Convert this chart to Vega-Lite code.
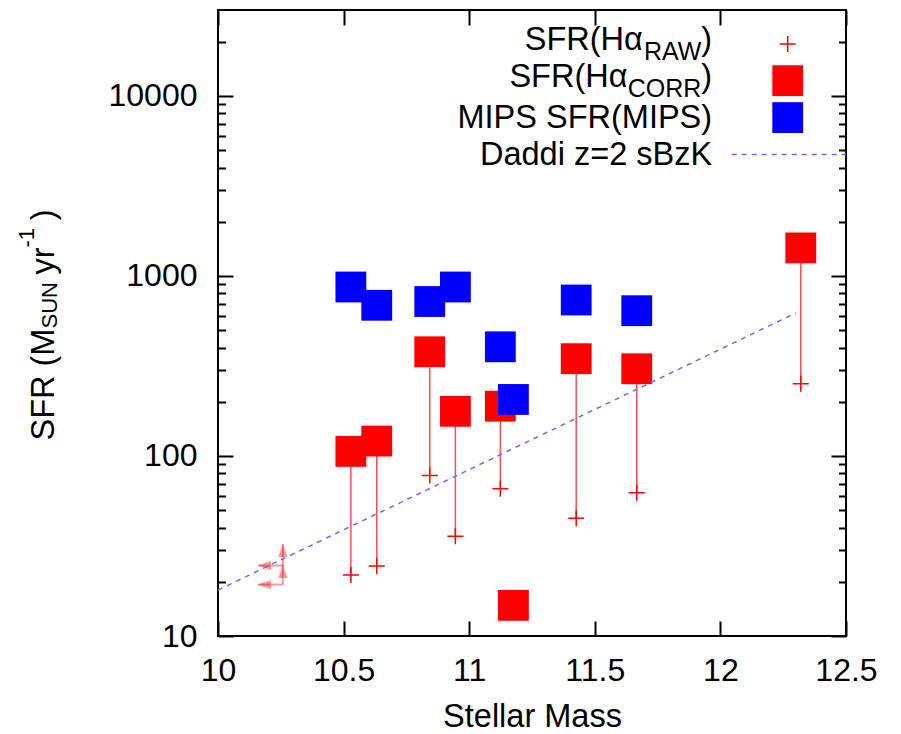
{
  "$schema": "https://vega.github.io/schema/vega-lite/v6.json",
  "width": 628,
  "height": 626,
  "autosize": {"type": "none"},
  "padding": {"left": 218, "top": 10, "right": 55, "bottom": 98},
  "background": "white",
  "config": {
    "view": {"stroke": "#000", "strokeWidth": 2},
    "font": "Liberation Sans",
    "axis": {
      "domain": false,
      "grid": false,
      "labelFont": "Liberation Sans",
      "labelFontSize": 32,
      "labelColor": "#000",
      "labelOverlap": false,
      "labelFlush": false,
      "tickColor": "#000",
      "tickWidth": 2,
      "titleFont": "Liberation Sans",
      "titleFontSize": 32.5,
      "titleFontWeight": "normal",
      "titleColor": "#000"
    },
    "text": {"font": "Liberation Sans", "color": "#000"}
  },
  "datasets": {
    "galaxies": [
      {"mass": 10.529, "raw": 21.8, "corr": 106, "mips": 868},
      {"mass": 10.632, "raw": 24.5, "corr": 121, "mips": 687},
      {"mass": 10.843, "raw": 77.8, "corr": 379, "mips": 721},
      {"mass": 10.945, "raw": 35.8, "corr": 177, "mips": 868},
      {"mass": 11.124, "raw": 65.8, "corr": 189, "mips": 404},
      {"mass": 11.176, "raw": null, "corr": 14.8, "mips": 206},
      {"mass": 11.426, "raw": 45.1, "corr": 347, "mips": 735},
      {"mass": 11.667, "raw": 62.5, "corr": 305, "mips": 641},
      {"mass": 12.32, "raw": 252, "corr": 1431, "mips": null}
    ],
    "limits": [
      {"mass": 10.258, "sfr": 19.3, "mass_lim": 10.159, "sfr_lim": 24.8},
      {"mass": 10.258, "sfr": 24.6, "mass_lim": 10.159, "sfr_lim": 32.4}
    ],
    "daddi": [
      {"mass": 10.0, "sfr": 18.0},
      {"mass": 12.3, "sfr": 622}
    ],
    "key": [
      {"entry": "raw", "label": "SFR(Hα", "sub": "RAW"},
      {"entry": "corr", "label": "SFR(Hα", "sub": "CORR"},
      {"entry": "mips", "label": "MIPS SFR(MIPS)"},
      {"entry": "daddi", "label": "Daddi z=2 sBzK"}
    ]
  },
  "layer": [
    {
      "data": {"name": "galaxies"},
      "transform": [{"filter": "isValid(datum.raw)"}],
      "mark": {"type": "rule", "color": "#ff0000", "strokeWidth": 1.5, "opacity": 0.7},
      "encoding": {
        "x": {
          "field": "mass", "type": "quantitative",
          "scale": {"domain": [10, 12.5], "nice": false, "zero": false},
          "axis": {
            "orient": "bottom",
            "values": [10, 10.5, 11, 11.5, 12, 12.5],
            "format": "~g",
            "tickSize": -15,
            "labelPadding": 34,
            "title": "Stellar Mass",
            "titleX": 314,
            "titleY": 90,
            "titleAlign": "center",
            "titleBaseline": "alphabetic"
          }
        },
        "y": {
          "field": "raw", "type": "quantitative",
          "scale": {"type": "log", "domain": [10, 30000], "nice": false},
          "axis": {
            "orient": "left",
            "values": [10, 20, 30, 40, 50, 60, 70, 80, 90, 100, 200, 300, 400, 500, 600, 700, 800, 900, 1000, 2000, 3000, 4000, 5000, 6000, 7000, 8000, 9000, 10000, 20000],
            "format": "d",
            "labelExpr": "(datum.value == 10 || datum.value == 100 || datum.value == 1000 || datum.value == 10000) ? datum.label : ''",
            "tickSize": {"condition": {"test": "datum.value == 10 || datum.value == 100 || datum.value == 1000 || datum.value == 10000", "value": -15}, "value": -7.5},
            "labelPadding": 36,
            "title": "SFR (M\u00a0\u00a0\u00a0\u00a0\u00a0 yr\u00a0\u00a0\u00a0)",
            "titleX": -165,
            "titleY": 430,
            "titleAngle": 270,
            "titleAlign": "left",
            "titleBaseline": "alphabetic"
          }
        },
        "y2": {"field": "corr"}
      }
    },
    {
      "data": {"name": "galaxies"},
      "transform": [{"filter": "isValid(datum.raw)"}],
      "mark": {"type": "point", "shape": "M-1,0L1,0M0,-1L0,1", "size": 256, "filled": false, "color": "#ff0000", "strokeWidth": 1.5, "opacity": 1},
      "encoding": {
        "x": {"field": "mass", "type": "quantitative", "axis": null},
        "y": {"field": "raw", "type": "quantitative", "axis": null}
      }
    },
    {
      "data": {"name": "limits"},
      "mark": {"type": "rule", "color": "#ff0000", "strokeWidth": 2, "opacity": 0.4},
      "encoding": {
        "x": {"field": "mass", "type": "quantitative", "axis": null},
        "x2": {"field": "mass_lim"},
        "y": {"field": "sfr", "type": "quantitative", "axis": null}
      }
    },
    {
      "data": {"name": "limits"},
      "mark": {"type": "rule", "color": "#ff0000", "strokeWidth": 2, "opacity": 0.4},
      "encoding": {
        "x": {"field": "mass", "type": "quantitative", "axis": null},
        "y": {"field": "sfr", "type": "quantitative", "axis": null},
        "y2": {"field": "sfr_lim"}
      }
    },
    {
      "data": {"name": "limits"},
      "mark": {"type": "point", "shape": "M0,0L2,-0.7L2,0.7Z", "size": 169, "filled": true, "color": "#ff0000", "opacity": 0.4},
      "encoding": {
        "x": {"field": "mass_lim", "type": "quantitative", "axis": null},
        "y": {"field": "sfr", "type": "quantitative", "axis": null}
      }
    },
    {
      "data": {"name": "limits"},
      "mark": {"type": "point", "shape": "M0,0L-0.7,2L0.7,2Z", "size": 169, "filled": true, "color": "#ff0000", "opacity": 0.4},
      "encoding": {
        "x": {"field": "mass", "type": "quantitative", "axis": null},
        "y": {"field": "sfr_lim", "type": "quantitative", "axis": null}
      }
    },
    {
      "data": {"name": "galaxies"},
      "mark": {"type": "square", "size": 950, "color": "#ff0000", "opacity": 1},
      "encoding": {
        "x": {"field": "mass", "type": "quantitative", "axis": null},
        "y": {"field": "corr", "type": "quantitative", "axis": null}
      }
    },
    {
      "data": {"name": "galaxies"},
      "transform": [{"filter": "isValid(datum.mips)"}],
      "mark": {"type": "square", "size": 950, "color": "#0000ff", "opacity": 1},
      "encoding": {
        "x": {
          "field": "mass", "type": "quantitative",
          "axis": {
            "orient": "top",
            "values": [10, 10.5, 11, 11.5, 12, 12.5],
            "tickSize": -15,
            "labels": false,
            "title": "-1",
            "titleFontSize": 22,
            "titleX": -185,
            "titleY": 237,
            "titleAngle": 270,
            "titleAlign": "left",
            "titleBaseline": "alphabetic"
          }
        },
        "y": {
          "field": "mips", "type": "quantitative",
          "axis": {
            "orient": "right",
            "values": [10, 20, 30, 40, 50, 60, 70, 80, 90, 100, 200, 300, 400, 500, 600, 700, 800, 900, 1000, 2000, 3000, 4000, 5000, 6000, 7000, 8000, 9000, 10000, 20000],
            "tickSize": {"condition": {"test": "datum.value == 10 || datum.value == 100 || datum.value == 1000 || datum.value == 10000", "value": -15}, "value": -7.5},
            "labels": false,
            "title": "SUN",
            "titleFontSize": 22,
            "titleX": -790,
            "titleY": 318,
            "titleAngle": 270,
            "titleAlign": "left",
            "titleBaseline": "alphabetic"
          }
        }
      }
    },
    {
      "data": {"name": "daddi"},
      "mark": {"type": "line", "color": "#6a6aff", "strokeWidth": 1.5, "strokeDash": [5, 5]},
      "encoding": {
        "x": {"field": "mass", "type": "quantitative", "axis": null},
        "y": {"field": "sfr", "type": "quantitative", "axis": null}
      }
    },
    {
      "data": {"name": "key"},
      "transform": [{"filter": "datum.entry == 'raw'"}],
      "mark": {"type": "text", "align": "right", "baseline": "alphabetic", "fontSize": 32.5, "dx": -69.3, "dy": 6},
      "encoding": {
        "x": {"datum": 11.967, "type": "quantitative", "axis": null},
        "y": {"datum": 19450, "type": "quantitative", "axis": null},
        "text": {"field": "label"}
      }
    },
    {
      "data": {"name": "key"},
      "transform": [{"filter": "datum.entry == 'raw'"}],
      "mark": {"type": "text", "align": "right", "baseline": "alphabetic", "fontSize": 25, "dx": -10.8, "dy": 16},
      "encoding": {
        "x": {"datum": 11.967, "type": "quantitative", "axis": null},
        "y": {"datum": 19450, "type": "quantitative", "axis": null},
        "text": {"field": "sub"}
      }
    },
    {
      "data": {"name": "key"},
      "transform": [{"filter": "datum.entry == 'raw'"}],
      "mark": {"type": "text", "align": "right", "baseline": "alphabetic", "fontSize": 32.5, "dy": 6},
      "encoding": {
        "x": {"datum": 11.967, "type": "quantitative", "axis": null},
        "y": {"datum": 19450, "type": "quantitative", "axis": null},
        "text": {"value": ")"}
      }
    },
    {
      "data": {"name": "key"},
      "transform": [{"filter": "datum.entry == 'corr'"}],
      "mark": {"type": "text", "align": "right", "baseline": "alphabetic", "fontSize": 32.5, "dx": -84.6, "dy": 6},
      "encoding": {
        "x": {"datum": 11.967, "type": "quantitative", "axis": null},
        "y": {"datum": 12150, "type": "quantitative", "axis": null},
        "text": {"field": "label"}
      }
    },
    {
      "data": {"name": "key"},
      "transform": [{"filter": "datum.entry == 'corr'"}],
      "mark": {"type": "text", "align": "right", "baseline": "alphabetic", "fontSize": 25, "dx": -10.8, "dy": 16},
      "encoding": {
        "x": {"datum": 11.967, "type": "quantitative", "axis": null},
        "y": {"datum": 12150, "type": "quantitative", "axis": null},
        "text": {"field": "sub"}
      }
    },
    {
      "data": {"name": "key"},
      "transform": [{"filter": "datum.entry == 'corr'"}],
      "mark": {"type": "text", "align": "right", "baseline": "alphabetic", "fontSize": 32.5, "dy": 6},
      "encoding": {
        "x": {"datum": 11.967, "type": "quantitative", "axis": null},
        "y": {"datum": 12150, "type": "quantitative", "axis": null},
        "text": {"value": ")"}
      }
    },
    {
      "data": {"name": "key"},
      "transform": [{"filter": "datum.entry == 'mips'"}],
      "mark": {"type": "text", "align": "right", "baseline": "alphabetic", "fontSize": 32.5, "dy": 10.6},
      "encoding": {
        "x": {"datum": 11.967, "type": "quantitative", "axis": null},
        "y": {"datum": 7576, "type": "quantitative", "axis": null},
        "text": {"field": "label"}
      }
    },
    {
      "data": {"name": "key"},
      "transform": [{"filter": "datum.entry == 'daddi'"}],
      "mark": {"type": "text", "align": "right", "baseline": "alphabetic", "fontSize": 32.5, "dy": 10.6},
      "encoding": {
        "x": {"datum": 11.967, "type": "quantitative", "axis": null},
        "y": {"datum": 4732, "type": "quantitative", "axis": null},
        "text": {"field": "label"}
      }
    },
    {
      "data": {"name": "key"},
      "transform": [{"filter": "datum.entry == 'raw'"}],
      "mark": {"type": "point", "shape": "M-1,0L1,0M0,-1L0,1", "size": 256, "filled": false, "color": "#ff0000", "strokeWidth": 1.5, "opacity": 1},
      "encoding": {
        "x": {"datum": 12.268, "type": "quantitative", "axis": null},
        "y": {"datum": 19450, "type": "quantitative", "axis": null}
      }
    },
    {
      "data": {"name": "key"},
      "transform": [{"filter": "datum.entry == 'corr'"}],
      "mark": {"type": "square", "size": 950, "color": "#ff0000", "opacity": 1},
      "encoding": {
        "x": {"datum": 12.268, "type": "quantitative", "axis": null},
        "y": {"datum": 12150, "type": "quantitative", "axis": null}
      }
    },
    {
      "data": {"name": "key"},
      "transform": [{"filter": "datum.entry == 'mips'"}],
      "mark": {"type": "square", "size": 950, "color": "#0000ff", "opacity": 1},
      "encoding": {
        "x": {"datum": 12.268, "type": "quantitative", "axis": null},
        "y": {"datum": 7576, "type": "quantitative", "axis": null}
      }
    },
    {
      "data": {"name": "key"},
      "transform": [{"filter": "datum.entry == 'daddi'"}],
      "mark": {"type": "rule", "color": "#6a6aff", "strokeWidth": 1.5, "strokeDash": [5, 5]},
      "encoding": {
        "x": {"datum": 12.045, "type": "quantitative", "axis": null},
        "x2": {"datum": 12.5},
        "y": {"datum": 4732, "type": "quantitative", "axis": null}
      }
    }
  ],
  "resolve": {"axis": {"x": "independent", "y": "independent"}}
}
